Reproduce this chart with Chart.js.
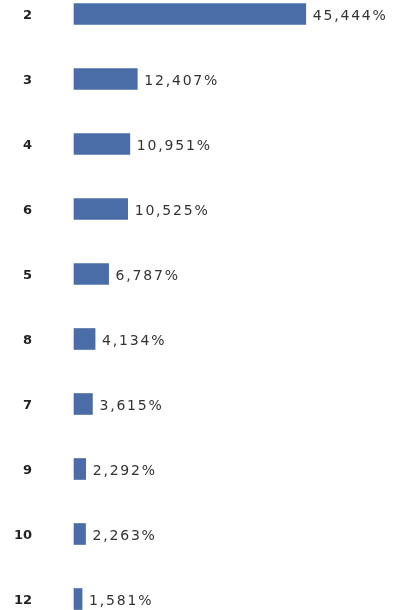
<!DOCTYPE html>
<html>
<head>
<meta charset="utf-8">
<script src="https://cdn.jsdelivr.net/npm/chart.js@4"></script>
<style>
  html, body { margin: 0; padding: 0; background: #fff; }
  canvas { display: block; }
</style>
</head>
<body>
<canvas id="shareChart" width="397" height="610"></canvas>
<script>
const categories = ["2", "3", "4", "6", "5", "8", "7", "9", "10", "12"];
const shares = [45.444, 12.407, 10.951, 10.525, 6.787, 4.134, 3.615, 2.292, 2.263, 1.581];

function fmt(v) {
  return v.toFixed(3).replace(".", ",") + "%";
}

// value text at the end of each bar
const valueLabels = {
  id: "valueLabels",
  afterDatasetsDraw(chart) {
    const ctx = chart.ctx;
    const meta = chart.getDatasetMeta(0);
    ctx.save();
    ctx.font = "14px 'DejaVu Sans'";
    ctx.fillStyle = "#333";
    ctx.textAlign = "left";
    ctx.textBaseline = "middle";
    if ("letterSpacing" in ctx) ctx.letterSpacing = "1.8px";
    meta.data.forEach((bar, i) => {
      ctx.fillText(fmt(shares[i]), bar.x + 7, bar.y + 2);
    });
    ctx.restore();
  }
};

new Chart(document.getElementById("shareChart"), {
  type: "bar",
  data: {
    labels: categories,
    datasets: [
      {
        data: shares,
        backgroundColor: "#4a6da8",
        barThickness: 21,
        clip: false
      }
    ]
  },
  options: {
    indexAxis: "y",
    responsive: false,
    animation: false,
    layout: {
      padding: { left: 0, right: 17, top: 14, bottom: 11 }
    },
    plugins: {
      legend: { display: false },
      tooltip: { enabled: false }
    },
    scales: {
      x: {
        display: false,
        min: 0,
        max: 60
      },
      y: {
        offset: false,
        grid: { display: false },
        border: { display: false },
        ticks: {
          padding: 34,
          labelOffset: 2,
          color: "#222",
          font: { family: "DejaVu Sans", size: 13, weight: "bold" }
        },
        afterFit(scale) {
          // tick padding would otherwise push the first/last rows inwards
          scale.width = 74;
          scale.paddingTop = 0;
          scale.paddingBottom = 0;
        }
      }
    }
  },
  plugins: [valueLabels]
});
</script>
</body>
</html>
